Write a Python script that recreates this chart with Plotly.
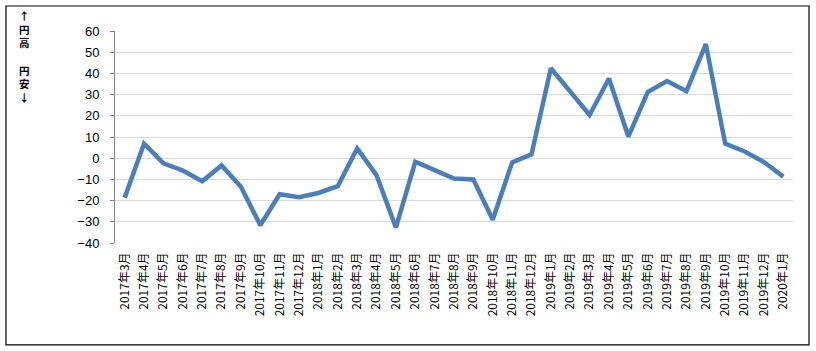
import plotly.graph_objects as go

months = ["2017年3月","2017年4月","2017年5月","2017年6月","2017年7月","2017年8月","2017年9月",
          "2017年10月","2017年11月","2017年12月","2018年1月","2018年2月","2018年3月","2018年4月",
          "2018年5月","2018年6月","2018年7月","2018年8月","2018年9月","2018年10月","2018年11月",
          "2018年12月","2019年1月","2019年2月","2019年3月","2019年4月","2019年5月","2019年6月",
          "2019年7月","2019年8月","2019年9月","2019年10月","2019年11月","2019年12月","2020年1月"]
values = [-18.6, 6.9, -2.4, -5.8, -10.9, -3.4, -13.5, -31.6, -17.0, -18.4, -16.4, -13.2,
          4.6, -8.0, -32.7, -1.7, -5.6, -9.6, -10.0, -29.0, -2.0, 1.8, 42.4, 31.6, 20.4,
          37.6, 10.2, 31.2, 36.4, 31.6, 53.8, 6.9, 3.2, -1.8, -8.7]
yticks = [-40, -30, -20, -10, 0, 10, 20, 30, 40, 50, 60]
axis_label = "↑<br>円<br>高<br><br>円<br>安<br>↓"

n = len(months)
fig = go.Figure()
fig.add_trace(go.Scatter(x=months, y=values, mode="lines",
                         line=dict(color="#4A7EBB", width=4.5), showlegend=False,
                         hoverinfo="skip"))

fig.update_layout(
    width=816, height=351,
    margin=dict(l=115, r=23, t=31, b=108),
    paper_bgcolor="white", plot_bgcolor="white",
    font=dict(family="Liberation Sans, Noto Sans CJK JP", color="black"),
    xaxis=dict(type="category", showline=False, showgrid=False, ticks="",
               tickangle=-90, tickfont=dict(size=12, family="Noto Sans CJK JP"),
               ticklabelstandoff=6, range=[-0.5, n - 0.5], fixedrange=True),
    xaxis2=dict(overlaying="x", anchor="free", position=0.4009, range=[-0.5, n - 0.5],
                showline=True, linecolor="#868686", linewidth=1, showgrid=False,
                ticks="outside", ticklen=4, tickcolor="#868686",
                tickvals=[k - 0.5 for k in range(n + 1)], showticklabels=False,
                zeroline=False),
    yaxis=dict(range=[-40, 60], tickvals=yticks, showgrid=True, gridcolor="#D9D9D9",
               gridwidth=1, showline=True, linecolor="#868686", linewidth=1,
               ticks="outside", ticklen=4, tickcolor="#868686", zeroline=False,
               tickfont=dict(size=13), ticklabelstandoff=8),
    shapes=[dict(type="rect", xref="paper", yref="paper",
                 x0=-0.1608, x1=1.0236, y0=-0.481, y1=1.118,
                 line=dict(color="black", width=1.2), fillcolor="rgba(0,0,0,0)")],
    annotations=[dict(text=axis_label, xref="paper", yref="paper",
                      x=(24 - 115) / 678, y=(243 - 56) / 212, showarrow=False,
                      xanchor="center", yanchor="middle", align="center",
                      font=dict(size=10.5, family="Noto Sans CJK JP", weight="bold",
                                color="black"))],
)
fig.write_html("out.html")
